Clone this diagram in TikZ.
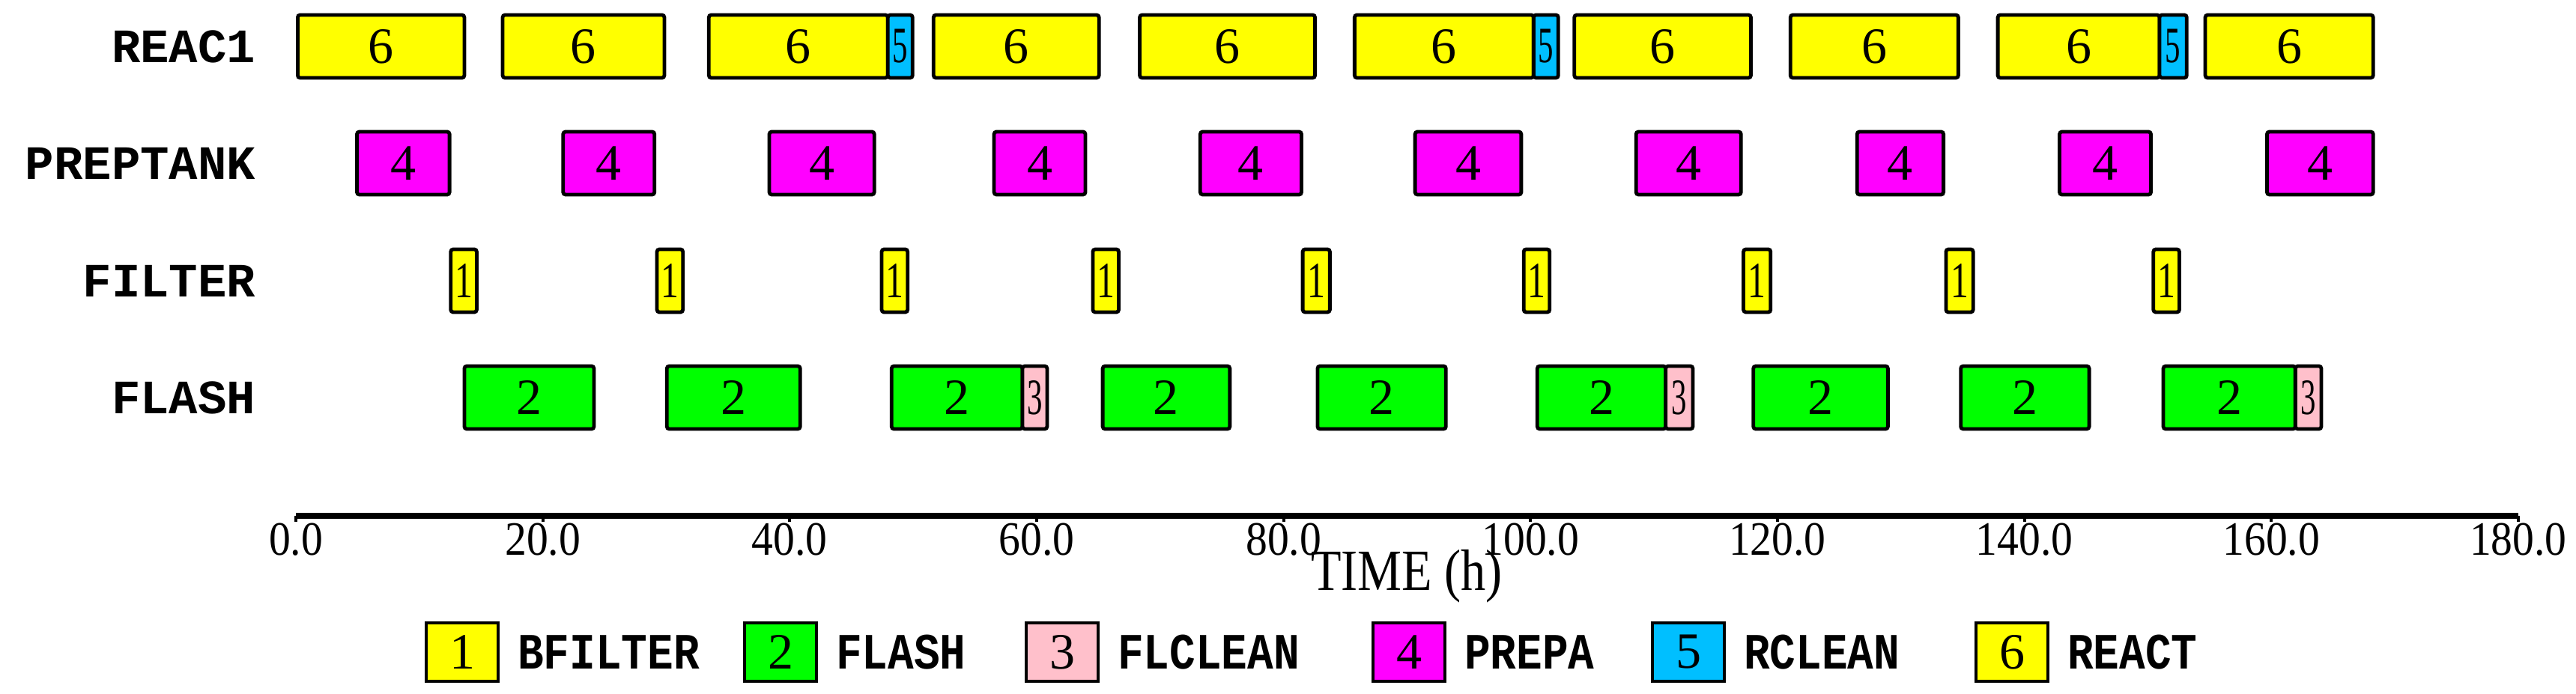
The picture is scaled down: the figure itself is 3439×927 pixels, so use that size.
\documentclass[tikz,border=0pt]{standalone}
\usepackage{fontspec}
\setmainfont{Liberation Serif}
\newfontfamily\lblfont{Liberation Mono}
\definecolor{cyel}{RGB}{255,255,0}
\definecolor{cgrn}{RGB}{0,255,0}
\definecolor{cpnk}{RGB}{255,192,203}
\definecolor{cmag}{RGB}{255,0,255}
\definecolor{cblu}{RGB}{0,191,255}
\begin{document}
\begin{tikzpicture}[x=0.25pt,y=-0.25pt,
  barbox/.style={draw=black,line width=1.2pt,rounded corners=0.8pt,minimum height=21pt,inner sep=0pt,anchor=west,font=\fontsize{17}{17}\selectfont},
  rowlbl/.style={anchor=east,inner sep=0pt,font=\lblfont\bfseries\fontsize{16}{16}\selectfont},
  ticklbl/.style={font=\fontsize{16}{16}\selectfont,xscale=0.9},
  legbox/.style={draw=black,line width=1.2pt,minimum width=24pt,minimum height=19.5pt,inner sep=0pt,font=\fontsize{17}{17}\selectfont},
  leglbl/.style={anchor=west,font=\lblfont\bfseries\fontsize{17}{17}\selectfont,xscale=0.85}]
\useasboundingbox (0,0) rectangle (3439,927);
\def\gxs{16.483}
\def\gxo{395}
% row labels
\node[rowlbl] (lr) at (342,62) {REAC1};
\node[rowlbl] (lp) at (342,218) {PREPTANK};
\node[rowlbl] (lf) at (342,375) {FILTER};
\node[rowlbl] (lh) at (342,531) {FLASH};
% bars
\newcommand{\gbars}[5]{%
  \foreach \a/\b [count=\i] in {#1} {
    \pgfmathsetmacro{\gxa}{\gxo+\a*\gxs}
    \pgfmathsetmacro{\gbw}{(\b-\a)*\gxs*0.25}
    \node[barbox,fill=#3,minimum width=\gbw pt] (#4\i) at (\gxa,#2) {#5};
  }}
\gbars{0/13.5,16.6/29.7,33.3/47.8,51.5/64.9,68.2/82.4,85.6/100.1,103.4/117.7,120.9/134.5,137.7/150.8,154.5/168.1}{62}{cyel}{re}{6}
\gbars{47.8/49.8,100.1/102.1,150.8/153.0}{62}{cblu}{rc}{\scalebox{0.6}[1]{5}}
\gbars{4.8/12.3,21.5/28.9,38.2/46.7,56.4/63.8,73.1/81.3,90.5/99.1,108.4/116.9,126.3/133.3,142.7/150.1,159.5/168.1}{218}{cmag}{pr}{4}
\gbars{12.4/14.5,29.1/31.2,47.3/49.4,64.4/66.5,81.4/83.6,99.3/101.4,117.1/119.3,133.5/135.7,150.3/152.4}{375}{cyel}{bf}{\scalebox{0.7}[1]{1}}
\gbars{13.5/24.0,29.9/40.7,48.1/58.7,65.2/75.5,82.6/93.0,100.4/110.8,117.9/128.8,134.7/145.1,151.1/161.8}{531}{cgrn}{fl}{2}
\gbars{58.7/60.7,110.8/113.0,161.8/163.9}{531}{cpnk}{fc}{\scalebox{0.6}[1]{3}}
% axis
\coordinate (ax0) at (395,689);
\coordinate (ax1) at (3362,689);
\draw[line width=1.8pt] (ax0) -- (ax1);
\foreach \t [count=\k] in {0,20,...,180} {
  \pgfmathsetmacro{\gxt}{\gxo+\t*\gxs}
  \draw[line width=1pt] (\gxt,689) -- (\gxt,697);
  \node[ticklbl] (tk\k) at (\gxt,721) {\t.0};
}
\node[font=\fontsize{19.5}{19.5}\selectfont,xscale=0.85] (tl) at (1878,770) {TIME (h)};
% legend
\foreach \x/\c/\n/\l in {617/cyel/1/BFILTER,1042/cgrn/2/FLASH,1418/cpnk/3/FLCLEAN,1881/cmag/4/PREPA,2254/cblu/5/RCLEAN,2686/cyel/6/REACT} {
  \node[legbox,fill=\c] (lb\n) at (\x,871) {\n};
  \node[leglbl] (ll\n) at (\x+62,871) {\l};
}
\end{tikzpicture}
\end{document}
